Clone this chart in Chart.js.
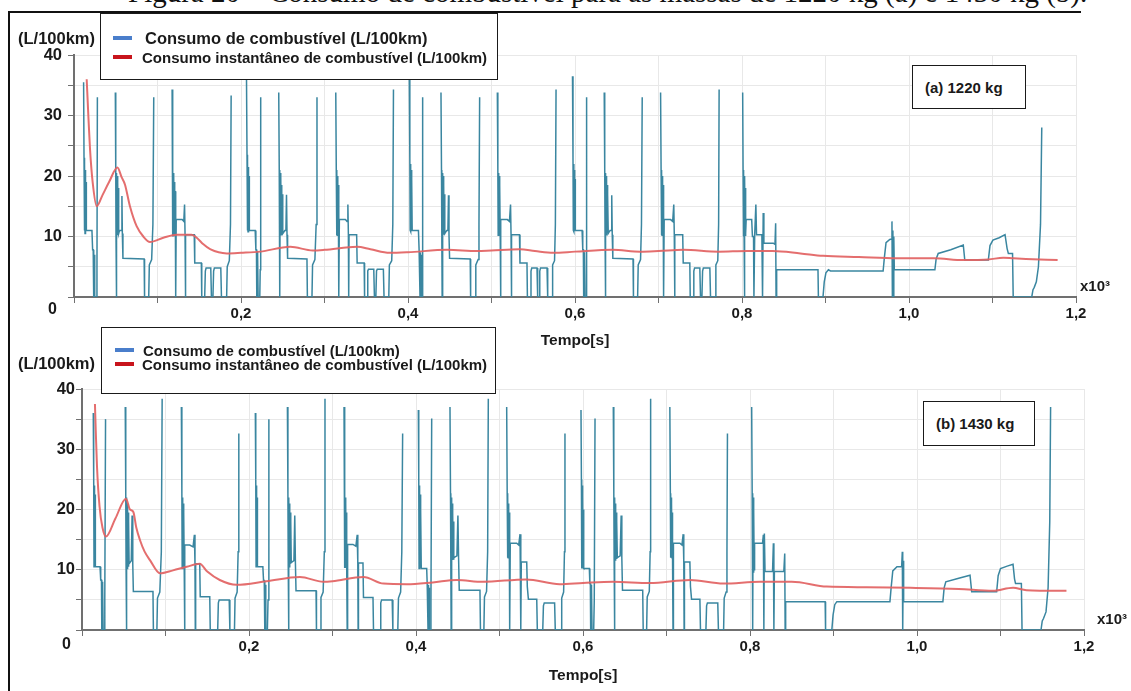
<!DOCTYPE html>
<html>
<head>
<meta charset="utf-8">
<script src="https://cdn.jsdelivr.net/npm/chart.js@4.4.1/dist/chart.umd.min.js"></script>
<style>
  html, body { margin: 0; padding: 0; background: #fff; }
  #page { position: relative; width: 1131px; height: 691px; overflow: hidden; background: #fff;
          font-family: "Liberation Sans", Arial, sans-serif; }
  canvas { position: absolute; left: 0; }
  .txt { position: absolute; white-space: nowrap; font-weight: bold; color: #1a1a1a; line-height: 1; z-index: 5; }
  .box { position: absolute; background: #fff; border: 1.5px solid #1a1a1a; box-sizing: border-box; z-index: 4; }
  .sw { position: absolute; width: 19px; height: 4px; z-index: 5; }
  #caption { position: absolute; left: 128px; top: -22px; font-family: "Liberation Serif", "Times New Roman", serif;
             font-size: 29px; line-height: 1; white-space: nowrap; color: #111; }
  #frame { position: absolute; left: 8px; top: 11px; width: 1073px; height: 700px;
           border-top: 2px solid #111; border-left: 2px solid #111; box-sizing: border-box; }
  #frameMark { position: absolute; left: 127px; top: 13px; width: 207px; height: 2px; background: #8c8c8c; }
</style>
</head>
<body>
<div id="page">
  <div id="caption">Figura 20 – Consumo de combustível para as massas de 1220 kg (a) e 1430 kg (b).</div>
  <div id="frame"></div>
  <div id="frameMark"></div>

  <canvas id="chartA" width="1131" height="348" style="top:0px"></canvas>
  <canvas id="chartB" width="1131" height="346" style="top:345px"></canvas>

  <!-- panel (a) -->
  <div class="txt" style="left:18px; top:29.5px; font-size:16.5px;">(L/100km)</div>
  <div class="box" style="left:100px; top:13px; width:398px; height:67px;"></div>
  <div class="sw" style="left:113px; top:36px; background:#4a7ecb;"></div>
  <div class="txt" style="left:145px; top:29.5px; font-size:16.5px;">Consumo de combustível (L/100km)</div>
  <div class="sw" style="left:113px; top:55px; background:#c8141c;"></div>
  <div class="txt" style="left:142px; top:49.5px; font-size:15px;">Consumo instantâneo de combustível (L/100km)</div>
  <div class="box" style="left:912px; top:65px; width:114px; height:44px;"></div>
  <div class="txt" style="left:925px; top:79.5px; font-size:15px;">(a) 1220 kg</div>
  <div class="txt" style="left:1080px; top:277.5px; font-size:15px;">x10³</div>
  <div class="txt" style="left:48px; top:301px; font-size:16px;">0</div>

  <!-- panel (b) -->
  <div class="txt" style="left:18px; top:355px; font-size:16.5px;">(L/100km)</div>
  <div class="box" style="left:101px; top:327px; width:395px; height:67px;"></div>
  <div class="sw" style="left:115px; top:348px; background:#4a7ecb;"></div>
  <div class="txt" style="left:143px; top:342.5px; font-size:15px;">Consumo de combustível (L/100km)</div>
  <div class="sw" style="left:115px; top:362px; background:#c8141c;"></div>
  <div class="txt" style="left:142px; top:356.5px; font-size:15px;">Consumo instantâneo de combustível (L/100km)</div>
  <div class="box" style="left:923px; top:401px; width:112px; height:45px;"></div>
  <div class="txt" style="left:936px; top:415.5px; font-size:15px;">(b) 1430 kg</div>
  <div class="txt" style="left:1097px; top:610.5px; font-size:15px;">x10³</div>
  <div class="txt" style="left:62px; top:636px; font-size:16px;">0</div>
</div>

<script>
// Time axis in seconds (labels shown in thousands), y in L/100km.
const xTickLabels = { 200: '0,2', 400: '0,4', 600: '0,6', 800: '0,8', 1000: '1,0', 1200: '1,2' };
const yTickLabels = { 10: '10', 20: '20', 30: '30', 40: '40' };

// ---- Panel (a) 1220 kg : fuel consumption [t (s), L/100km]; null = idle (no value)
const fuelA1 = [[11.5,35.5],[12,23],[12.4,11],[12.8,22],[13.2,10.5],[13.6,21],[14,10.5],[14.4,19],[14.8,11],[21.5,11],[22.3,7.8],[23,7.8],[23.4,0],[23.8,7.5],[24.2,0],[24.6,7],[25,0],[27,0],[27.5,4.5],[28,33],[38,null],
  [49.5,33.8],[50,21],[50.3,10],[50.6,0],[50.9,20.5],[51.3,10.2],[51.7,20],[52.1,10.2],[52.5,19],[52.9,10.5],[53.3,18],[53.7,10.5],[54.5,11],[56.8,11],[57.4,16.7],[57.9,10.5],[58.6,6.4],[84,6.3],[84.5,0],[89.5,0],[90.2,5.3],[93,6.2],[94.5,12],[95.5,33],[106,null],
  [117.5,34.3],[118,21],[118.4,10],[118.8,20.5],[119.2,10],[119.6,20],[120,10.2],[120.4,19],[120.8,10.3],[121.2,17.5],[121.6,10.5],[122,0],[122.4,12.8],[129.5,12.8],[131.5,12.5],[132.4,15.3],[133,10.3],[133.4,0],[133.8,10.3],[144,10.3],[144.6,5.6],[152.5,5.6],[153,0],[156.5,0],[157.3,4.3],[158.2,4.8],[163.8,4.8],[164.6,0],[166.4,0],[167.2,4.3],[168.1,4.8],[175.8,4.8],[176.6,0],[182.8,0],[183.5,5],[186,6],[187.4,12],[188.2,33.3],[198,null]];
const fuelA2 = [[206.5,38],[207.2,23.5],[207.6,11],[208,22.5],[208.4,10.8],[208.8,21.5],[209.2,11],[209.6,20],[210,11],[217,11],[217.8,7.8],[218.5,7.8],[218.9,0],[219.3,7.5],[219.7,0],[220.1,7],[220.5,0],[222.5,0],[223,4.5],[223.6,33],[234,null],
  [245.2,33.8],[245.8,21],[246.2,10.2],[246.6,0],[247,20.5],[247.4,10.3],[247.8,20],[248.2,10.3],[248.6,18.5],[249,10.5],[249.5,17],[250,10.5],[252.5,11],[253.8,11],[254.5,16.9],[255.1,10.3],[255.8,6.4],[279,6.3],[279.5,0],[285,0],[285.7,5.3],[288.5,6.2],[290,12],[291,33],[302,null],
  [313.5,33.8],[314.1,21],[314.5,10.2],[314.9,20.5],[315.3,10.2],[315.7,20],[316.1,10.3],[316.5,18.5],[316.9,10.5],[317.3,0],[317.8,12.8],[325,12.8],[327,12.5],[328,15.3],[328.6,10.3],[329,0],[329.4,10.3],[338.5,10.3],[339.1,5.6],[347.5,5.6],[348,0],[351,0],[351.8,4.3],[352.7,4.6],[359,4.6],[359.8,0],[361.5,0],[362.3,4.3],[363.2,4.6],[370.5,4.6],[371.3,0],[377,0],[377.7,5.3],[380.5,6],[381.8,12],[382.6,34.3],[392,null]];
const fuelA3 = [[401.5,38],[402.2,23],[402.6,11],[403,22],[403.4,10.8],[403.8,21],[404.2,11],[404.6,19.5],[405,11],[412.5,11],[413.3,7.8],[414,7.8],[414.4,0],[414.8,7.4],[415.2,0],[415.6,7],[416,0],[417,0],[417.3,4.5],[417.8,33],[428,null],
  [439.5,33.8],[440.1,21],[440.5,10.2],[440.9,0],[441.3,20.5],[441.7,10.3],[442.1,20],[442.5,10.3],[442.9,18.5],[443.3,10.5],[443.8,17],[444.3,10.5],[446.5,11],[447.8,11],[448.5,16.8],[449.1,10.3],[449.8,6.4],[474.5,6.3],[475,0],[480.5,0],[481.2,5.3],[484,6.2],[485,12],[485.8,33],[496,null],
  [507,33.8],[507.6,21],[508,10.2],[508.4,20.5],[508.8,10.2],[509.2,20],[509.6,10.3],[510,18.5],[510.4,10.5],[510.8,0],[511.3,12.8],[519,12.8],[521.5,12.5],[522.8,15.3],[523.4,10.3],[523.8,0],[524.2,10.3],[533.5,10.3],[534.1,5.6],[542.5,5.6],[543,0],[546.5,0],[547.3,4.3],[548.2,4.8],[554.5,4.8],[555.3,0],[557,0],[557.8,4.3],[558.7,4.8],[566.5,4.8],[567.3,0],[572.5,0],[573.2,5.3],[575.5,6],[576.5,12],[577.3,34.3],[587,null]];
const fuelA4 = [[597,36.5],[597.6,23],[598,11],[598.4,22],[598.8,10.8],[599.2,21],[599.6,11],[600,19.5],[600.4,11],[608.5,11],[609.3,7.8],[610,7.8],[610.4,0],[610.8,7.4],[611.2,0],[611.6,7],[612,0],[613.2,0],[613.6,4.5],[614.2,33],[624,null],
  [635,33.8],[635.6,21],[636,10.2],[636.4,0],[636.8,20.5],[637.2,10.3],[637.6,20],[638,10.3],[638.4,18.5],[638.8,10.5],[639.3,17],[639.8,10.5],[642,11],[643.3,11],[644,16.8],[644.6,10.3],[645.3,6.4],[669.5,6.3],[670,0],[675,0],[675.7,5.3],[678.5,6.2],[679.6,12],[680.5,33],[691,null],
  [702.5,33.8],[703.1,21],[703.5,10.2],[703.9,20.5],[704.3,10.2],[704.7,20],[705.1,10.3],[705.5,18.5],[705.9,10.5],[706.3,0],[706.8,12.8],[714.5,12.8],[717,12.5],[718.3,15.3],[718.9,10.3],[719.3,0],[719.7,10.3],[729,10.3],[729.6,5.6],[737.5,5.6],[738,0],[741.5,0],[742.3,4.3],[743.2,4.8],[749.5,4.8],[750.3,0],[752,0],[752.8,4.3],[753.7,4.8],[761.5,4.8],[762.3,0],[768,0],[768.7,5.3],[771,6],[772,12],[772.6,34.3],[786,null]];
const fuelA5 = [[800.8,33.8],[801.3,21],[801.7,10],[802.1,20.5],[802.5,10],[802.9,0],[803.3,20],[803.7,10.2],[804.1,18],[804.6,10.5],[805,12.8],[811.6,12.8],[812.5,10],[813.8,10],[814.3,0],[815.2,10.3],[816.6,15.3],[817.4,10.3],[823.8,10.3],[824.6,0],[825.4,13.9],[826.2,8.9],[837.5,8.9],[839.5,8.7],[840.3,12.2],[840.8,0],[841.5,4.5],[891,4.5],[891.5,0],[897,0],[898.5,2.5],[900.5,4],[903.5,4.5],[906,4.3],[969,4.3],[970.5,6.5],[972.5,9],[977,9.5],[979,9.6],[979.6,12.5],[980.1,0],[980.7,11],[981.2,0],[981.8,10],[982.4,4.5],[1031,4.5],[1032.5,6.3],[1035,7.2],[1050,7.8],[1065,8.6],[1066.8,6.1],[1095,6.1],[1097,8.5],[1100.5,9.4],[1108,9.8],[1115,10.3],[1117.5,8],[1119,7.2],[1124,7.2],[1124.8,0],[1147,0],[1148.5,1.2],[1150,1.6],[1152.5,2.5],[1155,5],[1157.5,12],[1159,28]];
// instantaneous consumption (a)
const avgA = [[15.2,36],[17.2,29.9],[19.2,24.4],[22.4,18.9],[27.2,15],[34,16.8],[42,19],[52,21.4],[57,19.8],[61,18.6],[67,15],[75,11.7],[83,10],[91,9.1],[107,9.8],[123,10.3],[141,10.3],[147,9.8],[155,8.7],[163,7.9],[183,7.2],[200,7.3],[223,7.5],[259,8.3],[286,7.7],[300,7.8],[339,8.3],[355,7.9],[378,7.3],[400,7.4],[447,7.8],[483,7.6],[500,7.7],[534,7.9],[552,7.6],[574,7.3],[600,7.5],[645,7.8],[678,7.5],[700,7.6],[730,7.8],[772,7.5],[806,7.6],[837,7.6],[870,7.2],[897,6.8],[940,6.6],[986,6.4],[1030,6.4],[1065,6.1],[1095,6.2],[1113,6.5],[1125,6.4],[1140,6.3],[1178,6.1]];

// ---- Panel (b) 1430 kg
const fuelB1 = [[13.5,36],[14,25.4],[14.4,10.5],[14.8,24],[15.2,10.5],[15.6,22.5],[16,10.5],[21.6,10.5],[22.4,8.3],[23.3,8.3],[23.7,0],[24.1,8],[24.5,0],[24.9,7.5],[25.3,0],[26.5,0],[27.3,5],[28.2,35],[40,null],
  [51.8,37],[52.4,22.7],[52.8,10.2],[53.2,0],[53.6,22],[54,10.2],[54.4,21],[54.8,10.2],[55.2,19.5],[55.6,10.5],[56,18],[56.4,11],[59,11.5],[60,19],[60.8,11],[61.5,6.4],[85,6.4],[85.5,0],[89.7,0],[90.4,5.3],[93.2,6.3],[95,13],[96,38.4],[107,null],
  [119,37],[119.6,22.7],[120,10.2],[120.4,22],[120.8,10.2],[121.2,21],[121.6,10.3],[122,19.5],[122.4,10.5],[122.8,0],[123.3,14.1],[129,14.1],[133,13.8],[134.6,15.8],[135.3,11],[135.7,0],[136.1,11],[141,11],[141.6,5.5],[153,5.5],[153.6,0],[162.5,0],[163.3,4.5],[164.3,5],[176.3,5],[177.1,0],[182.6,0],[183.3,5.3],[185.8,6.3],[187,13],[187.8,32.6],[198,null]];
const fuelB2 = [[207.6,36],[208.1,25],[208.5,10.5],[208.9,24],[209.3,10.5],[209.7,22],[210.1,10.5],[216.6,10.5],[217.4,8.2],[218.3,8.2],[218.7,0],[219.1,8],[219.5,0],[219.9,7.5],[220.3,0],[222,0],[222.8,5],[223.8,35],[235,null],
  [246,37],[246.6,22.7],[247,10.5],[247.4,0],[247.8,22],[248.2,10.5],[248.6,21],[249,10.5],[249.4,19.5],[249.8,11],[250.2,18],[250.6,11.2],[253.8,11.5],[254.8,19],[255.6,11],[256.3,6.5],[280.3,6.5],[280.8,0],[285.5,0],[286.2,5.4],[288.8,6.3],[290.2,13],[291,38.4],[302,null],
  [313.8,37],[314.4,22.7],[314.8,10.3],[315.2,22],[315.6,10.3],[316,21],[316.4,10.4],[316.8,19.5],[317.2,10.6],[317.6,0],[318.1,14.2],[324.5,14.2],[328,13.9],[329.6,15.8],[330.3,11.1],[330.7,0],[331.1,11.1],[336.5,11.1],[337.1,5.4],[348.5,5.4],[349.1,0],[357,0],[357.8,4.5],[358.8,5],[371.5,5],[372.3,0],[378.2,0],[379,5.3],[381.6,6.3],[383,13],[384,32.6],[394,null]];
const fuelB3 = [[402.8,36.5],[403.3,25.4],[403.7,10.2],[404.1,24],[404.5,10.2],[404.9,22.5],[405.3,10.3],[405.8,20],[406.3,10.2],[412.8,10.2],[413.4,7.7],[414,7.7],[414.4,0],[414.8,7.5],[415.2,0],[415.6,7],[416,0],[417.2,0],[417.9,5],[418.8,35.1],[430,null],
  [440.7,37],[441.3,22.7],[441.7,11.6],[442.1,0],[442.5,22],[442.9,11.6],[443.3,21],[443.7,11.6],[444.1,19.5],[444.5,11.8],[445,18],[445.5,12],[449,12.3],[450.2,19],[451,12],[451.8,6.6],[476.6,6.6],[477.2,0],[481.3,0],[482,5.5],[484.5,6.4],[485.8,13],[486.6,38.4],[497,null],
  [508.6,37],[509.2,22.7],[509.6,12],[510,22],[510.4,12],[510.8,21],[511.2,12],[511.6,19.5],[512,12.5],[512.4,0],[512.9,14.4],[520.6,14.4],[523,14.1],[524.6,15.9],[525.3,11.3],[525.7,0],[526.1,11.3],[532.6,11.3],[533.3,7.2],[534.6,5.1],[544.6,5.1],[545.3,0],[551.8,0],[552.6,4],[553.6,4.5],[566,4.5],[566.8,0],[573.8,0],[574.5,5.3],[576.8,6.3],[577.8,13],[578.4,32.6],[589,null]];
const fuelB4 = [[597.6,36.5],[598.1,25],[598.5,10.2],[598.9,24],[599.3,10.2],[599.7,22.5],[600.1,10.3],[600.6,20],[601.1,10.2],[607.6,10.2],[608.2,7.7],[608.8,7.7],[609.2,0],[609.6,7.5],[610,0],[610.4,7],[610.8,0],[612.8,0],[613.5,5],[614.4,35.1],[625,null],
  [636.3,37],[636.9,22.7],[637.3,11.6],[637.7,0],[638.1,22],[638.5,11.6],[638.9,21],[639.3,11.6],[639.7,19.5],[640.1,11.8],[640.6,18],[641.1,12],[644.5,12.3],[645.7,19],[646.5,12],[647.3,6.6],[671.5,6.6],[672.1,0],[676.2,0],[676.9,5.5],[679.4,6.4],[680.4,13],[681,38.4],[692,null],
  [704,37],[704.6,22.7],[705,12],[705.4,22],[705.8,12],[706.2,21],[706.6,12],[707,19.5],[707.4,12.5],[707.8,0],[708.3,14.4],[716,14.4],[718.5,14.1],[720,15.9],[720.7,11.3],[721.1,0],[721.5,11.3],[728,11.3],[728.7,7.2],[730,5.1],[740,5.1],[740.7,0],[747.2,0],[748,4],[749,4.5],[761.4,4.5],[762.2,0],[768.4,0],[769.1,5.3],[771.4,6.3],[772.4,13],[773,32.6],[787,null]];
const fuelB5 = [[802,37],[802.6,22.7],[803,9.4],[803.4,0],[803.8,22],[804.2,9.5],[804.6,20],[805,10],[805.5,14.4],[815,14.4],[816,15.8],[816.6,0],[817.2,16],[818,9.7],[827,9.7],[828,14.4],[828.6,0],[829.2,9.7],[840.5,9.7],[841.6,12.7],[842.1,0],[842.7,4.7],[890,4.7],[890.5,0],[898,0],[899.5,2.5],[901.5,4.2],[904,4.7],[967.6,4.7],[969,7],[971,9.8],[976,10.5],[981.6,10.5],[982.4,13],[982.9,0],[983.5,11.5],[984,4.7],[1031,4.7],[1032.5,7],[1034.5,8],[1050,8.6],[1063.5,9.1],[1065.5,6.35],[1095.4,6.35],[1097.2,9],[1100,10.2],[1108,10.6],[1115,10.9],[1116.8,8.5],[1118,7.7],[1125,7.7],[1125.8,0],[1148.5,0],[1150,1.5],[1151.5,1.9],[1154.5,3],[1157,7],[1159,18],[1160,37]];
// instantaneous consumption (b)
const avgB = [[15.5,37.5],[16.5,33],[18,27],[21,20.5],[24.5,17],[28.7,15.5],[40,18.5],[52.7,21.8],[57.5,20],[61.5,19.6],[65,17],[69.5,14.9],[75,13],[81.4,11.6],[93.4,9.4],[109,9.9],[125.4,10.5],[141,11],[150,9.7],[165,8.3],[185,7.5],[221,8.1],[261,8.8],[289,8],[300,8.1],[337,8.8],[361,7.7],[389,7.6],[420,7.9],[449,8.3],[480,8],[532,8.4],[572,7.6],[600,7.8],[636,8],[680,7.8],[728,8.3],[768,7.7],[812,8],[850,8],[892,7.2],[940,7.1],[992,7],[1050,6.8],[1091,6.5],[1115,7],[1131,6.6],[1179,6.5]];

const toPts = arr => arr.map(([x, y]) => ({ x, y }));

const BLUE = '#3a86a0';
const RED = 'rgba(226,98,98,0.92)';
const TEXT = '#1a1a1a';
const AXIS = '#707070';
const GRID = '#e8e8e8';
const FONT = '"Liberation Sans", Arial, sans-serif';

function makeChart(id, fuel, avg, geo) {
  return new Chart(document.getElementById(id), {
    type: 'line',
    data: {
      datasets: [
        { label: 'Consumo instantâneo de combustível (L/100km)', data: toPts(avg),
          borderColor: RED, borderWidth: 2, pointRadius: 0, tension: 0.3,
          cubicInterpolationMode: 'monotone', order: 0 },
        { label: 'Consumo de combustível (L/100km)', data: toPts(fuel),
          borderColor: BLUE, borderWidth: 1.5, pointRadius: 0, tension: 0,
          spanGaps: false, order: 1 }
      ]
    },
    options: {
      responsive: false, animation: false, devicePixelRatio: 1,
      layout: { padding: geo.padding },
      plugins: { legend: { display: false }, tooltip: { enabled: false } },
      scales: {
        x: {
          type: 'linear', min: 0, max: 1200,
          afterFit: s => { s.height = geo.xHeight; },
          grid: { color: GRID, tickColor: AXIS, tickLength: 6, lineWidth: 1 },
          border: { color: AXIS, width: 2 },
          ticks: { stepSize: 100, autoSkip: false, maxRotation: 0, padding: 2,
                   color: TEXT, font: { family: FONT, size: 15, weight: 'bold' },
                   callback: v => xTickLabels[v] || '' },
          title: { display: true, text: 'Tempo[s]', color: TEXT,
                   font: { family: FONT, size: 15.5, weight: 'bold', lineHeight: 1 },
                   padding: { top: 0, bottom: geo.titlePad } }
        },
        y: {
          min: 0, max: 40,
          afterFit: s => { s.width = geo.yWidth; },
          grid: { color: GRID, tickColor: AXIS, tickLength: 6, lineWidth: 1 },
          border: { color: AXIS, width: 2 },
          ticks: { stepSize: 5, padding: geo.yPad, color: TEXT,
                   font: { family: FONT, size: 16.5, weight: 'bold' },
                   callback: v => yTickLabels[v] || '' }
        }
      }
    }
  });
}

const fuelA = [].concat(fuelA1, fuelA2, fuelA3, fuelA4, fuelA5);
const fuelB = [].concat(fuelB1, fuelB2, fuelB3, fuelB4, fuelB5);

makeChart('chartA', fuelA, avgA, {
  padding: { left: 14, right: 55, top: 55, bottom: 0 },
  xHeight: 51, yWidth: 60, yPad: 6, titlePad: 0
});
makeChart('chartB', fuelB, avgB, {
  padding: { left: 14, right: 47, top: 44, bottom: 0 },
  xHeight: 61, yWidth: 68, yPad: 1, titlePad: 8
});
</script>
</body>
</html>
